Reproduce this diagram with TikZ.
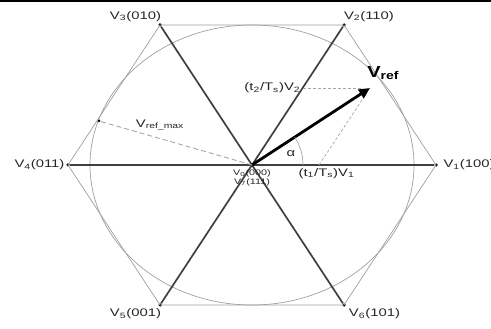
\documentclass[tikz,border=0pt]{standalone}
\usepackage{fontspec}
\setmainfont{Liberation Sans}
\usetikzlibrary{positioning,arrows.meta}

\begin{document}
\begin{tikzpicture}[x=1pt, y=-1pt,
  node distance=2pt,
  dot/.style={circle, fill=black, inner sep=0pt, minimum size=3.5pt},
  lbl/.style={font=\fontsize{11}{12}\selectfont, xscale=1.35, transform shape, inner sep=1pt, text=black!85},
  small/.style={font=\fontsize{8}{9}\selectfont, xscale=1.35, transform shape, inner sep=0.5pt, align=center, text=black!85},
  hexa/.style={gray!75, line width=0.7pt},
  spoke/.style={black!75, line width=1.7pt},
  comp/.style={gray!70, dashed, line width=0.7pt, dash pattern=on 3pt off 2pt},
  vec/.style={-{Triangle[length=11pt, width=10pt]}, black, line width=2.8pt}]
  \useasboundingbox (0,0) rectangle (491,329);
  \fill[black] (0,0) rectangle (491,2.5);
  % switching vectors
  \coordinate (o) at (252,165);
  \node[dot] (v1) at (436,165) {};
  \node[dot] (v2) at (344,25) {};
  \node[dot] (v3) at (160,25) {};
  \node[dot] (v4) at (68,165) {};
  \node[dot] (v5) at (160,305) {};
  \node[dot] (v6) at (344,305) {};
  \draw[hexa] (v1.center) -- (v2.center) -- (v3.center) -- (v4.center)
    -- (v5.center) -- (v6.center) -- cycle;
  \draw[gray!75, line width=0.7pt] (o) ellipse [x radius=162, y radius=140];
  \draw[spoke] (v4) -- (v1);
  \draw[spoke] (v3) -- (v6);
  \draw[spoke] (v2) -- (v5);
  \node[lbl, above left=1pt and -4pt of v3] (l3) {V\textsubscript{3}(010)};
  \node[lbl, above right=1pt and -3pt of v2] (l2) {V\textsubscript{2}(110)};
  \node[lbl, left=0pt of v4] (l4) {V\textsubscript{4}(011)};
  \node[lbl, right=4pt of v1] (l1) {V\textsubscript{1}(100)};
  \node[lbl, below left=1pt and -4pt of v5] (l5) {V\textsubscript{5}(001)};
  \node[lbl, below right=1pt and 2pt of v6] (l6) {V\textsubscript{6}(101)};
  \node[small, below=4pt of o] (l0) {V\textsubscript{0}(000)\\V\textsubscript{7}(111)};
  % reference vector and its parts
  \coordinate (tip) at (370,88);
  \coordinate (c2) at (303,88);
  \coordinate (c1) at (319,165);
  \draw[comp, shorten >=7pt] (c2) -- (tip);
  \draw[comp, shorten >=7pt] (c1) -- (tip);
  \draw[vec] (o) -- (tip);
  \node[font=\fontsize{16}{18}\selectfont\bfseries, xscale=1.25, transform shape,
        inner sep=0pt, above right=8pt and -3pt of tip] (vr) {V\textsubscript{ref}};
  \node[lbl, left=1pt of c2] (t2) {(t\textsubscript{2}/T\textsubscript{s})V\textsubscript{2}};
  \node[lbl, below right=2pt and -22pt of c1] (t1) {(t\textsubscript{1}/T\textsubscript{s})V\textsubscript{1}};
  \draw[gray!70, line width=0.7pt] (303,165) arc[start angle=0, end angle=-33, radius=51];
  \node[lbl] (al) at (291,154) {α};
  % maximum length
  \node[dot, minimum size=3pt] (vm) at (99,121) {};
  \draw[comp, line width=0.9pt, dash pattern=on 5pt off 3pt] (o) -- (vm);
  \node[lbl] (lm) at (160,125) {V\textsubscript{ref\_max}};
\end{tikzpicture}
\end{document}
